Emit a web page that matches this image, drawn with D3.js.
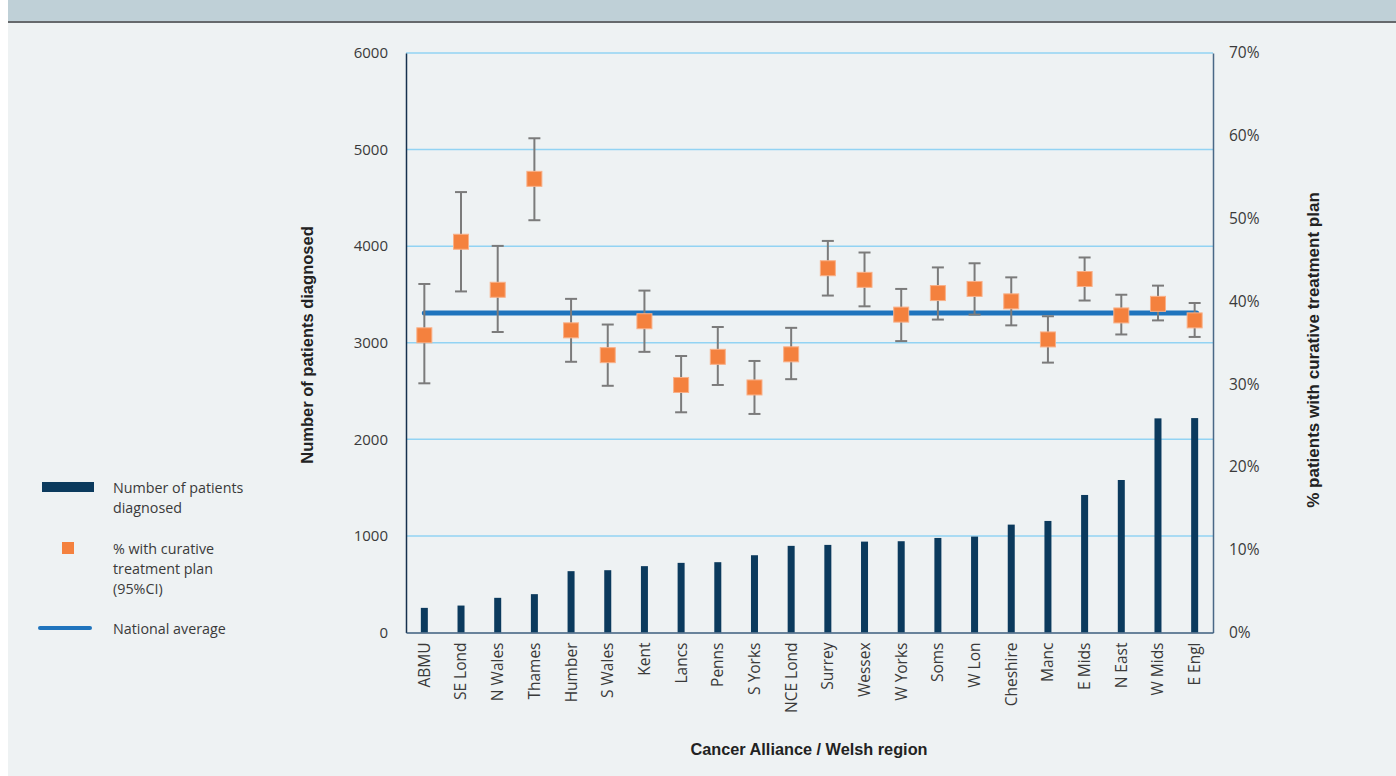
<!DOCTYPE html>
<html>
<head>
<meta charset="utf-8">
<script src="https://cdn.jsdelivr.net/npm/d3@7"></script>
<style>
  html, body { margin: 0; padding: 0; background: #ffffff; }
  svg { display: block; }
</style>
</head>
<body>
<svg id="chart" width="1396" height="776"></svg>
<script>
// ---- data ----
const categories = ["ABMU","SE Lond","N Wales","Thames","Humber","S Wales","Kent","Lancs","Penns","S Yorks","NCE Lond","Surrey","Wessex","W Yorks","Soms","W Lon","Cheshire","Manc","E Mids","N East","W Mids","E Engl"];
const patients = [255,279,359,397,635,645,687,721,728,800,897,907,941,945,979,993,1117,1155,1424,1579,2217,2220];
const pctCurative = [35.9,47.2,41.4,54.8,36.5,33.5,37.6,29.9,33.3,29.6,33.6,44.0,42.6,38.4,41.0,41.5,40.0,35.4,42.7,38.3,39.7,37.7];
const ciLower = [30.1,41.2,36.3,49.8,32.7,29.8,33.9,26.6,29.9,26.4,30.6,40.7,39.4,35.2,37.8,38.4,37.1,32.6,40.1,36.0,37.7,35.7];
const ciUpper = [42.1,53.2,46.7,59.7,40.3,37.2,41.3,33.4,36.9,32.8,36.8,47.3,45.9,41.5,44.1,44.6,42.9,38.2,45.3,40.8,41.9,39.8];
const nationalAverage = 38.6;
const leftTicks = [0,1000,2000,3000,4000,5000,6000];
const rightTicks = [0,10,20,30,40,50,60,70];

// ---- layout ----
const svg = d3.select("#chart");
const W = 1396, H = 776;
const plot = {left: 406, right: 1213, top: 53, bottom: 632.5};

svg.append("rect").attr("x", 8).attr("y", 0).attr("width", W - 8).attr("height", H).attr("fill", "#eef2f3");
svg.append("rect").attr("x", 8).attr("y", 0).attr("width", W - 8).attr("height", 21).attr("fill", "#bfd0d7");
svg.append("rect").attr("x", 8).attr("y", 21).attr("width", W - 8).attr("height", 2).attr("fill", "#66696c");

const x = d3.scaleBand().domain(categories).range([plot.left, plot.right]).paddingInner(0).paddingOuter(0);
const yL = d3.scaleLinear().domain([0, 6000]).range([plot.bottom, plot.top]);
const yR = d3.scaleLinear().domain([0, 70]).range([plot.bottom, plot.top]);

const font = "'Open Sans', 'Noto Sans', sans-serif";
const boldFont = "'Liberation Sans Narrow', 'Liberation Sans', sans-serif";

// gridlines
svg.append("g").selectAll("line").data(leftTicks.filter(d => d > 0)).join("line")
  .attr("x1", plot.left).attr("x2", plot.right)
  .attr("y1", d => yL(d)).attr("y2", d => yL(d))
  .attr("stroke", "#92d3f3").attr("stroke-width", 1.5);

// left axis
const axL = svg.append("g").attr("transform", `translate(${plot.left},0)`)
  .call(d3.axisLeft(yL).tickValues(leftTicks).tickSize(0).tickPadding(18).tickFormat(d3.format("d")));
axL.select(".domain").attr("stroke", "#15304d").attr("stroke-width", 1.5);
axL.selectAll("text").attr("font-family", font).attr("font-size", 15).attr("fill", "#3a3a3a");

// right axis
const axR = svg.append("g").attr("transform", `translate(${plot.right},0)`)
  .call(d3.axisRight(yR).tickValues(rightTicks).tickSize(0).tickPadding(16).tickFormat(d => d + "%"));
axR.select(".domain").attr("stroke", "#4a6886").attr("stroke-width", 1.5);
axR.selectAll("text").attr("font-family", font).attr("font-size", 15.5).attr("fill", "#3a3a3a");

// bars
const bw = 7;
svg.append("g").selectAll("rect").data(categories).join("rect")
  .attr("x", (d) => x(d) + x.bandwidth() / 2 - bw / 2)
  .attr("y", (d, i) => yL(patients[i]))
  .attr("width", bw)
  .attr("height", (d, i) => yL(0) - yL(patients[i]))
  .attr("fill", "#0b3a5d");

// bottom axis
const axB = svg.append("g").attr("transform", `translate(0,${plot.bottom})`)
  .call(d3.axisBottom(x).tickSize(0).tickPadding(0));
axB.select(".domain").attr("stroke", "#3d5e7e").attr("stroke-width", 1.5);
axB.selectAll("text")
  .attr("font-family", font).attr("font-size", 15.5).attr("fill", "#3a3a3a")
  .attr("text-anchor", "end")
  .attr("transform", "rotate(-90)")
  .attr("x", -10).attr("y", 0).attr("dy", "0.35em");

// national average line
svg.append("line")
  .attr("x1", x(categories[0]) + x.bandwidth() / 2)
  .attr("x2", x(categories[categories.length - 1]) + x.bandwidth() / 2 + 2)
  .attr("y1", yR(nationalAverage)).attr("y2", yR(nationalAverage))
  .attr("stroke", "#1f74bd").attr("stroke-width", 5).attr("stroke-linecap", "round");

// error bars
const eb = svg.append("g").attr("stroke", "#7b7b7b").attr("stroke-width", 2);
categories.forEach((c, i) => {
  const cx = x(c) + x.bandwidth() / 2;
  eb.append("line").attr("x1", cx).attr("x2", cx).attr("y1", yR(ciLower[i])).attr("y2", yR(ciUpper[i]));
  eb.append("line").attr("x1", cx - 6).attr("x2", cx + 6).attr("y1", yR(ciLower[i])).attr("y2", yR(ciLower[i]));
  eb.append("line").attr("x1", cx - 6).attr("x2", cx + 6).attr("y1", yR(ciUpper[i])).attr("y2", yR(ciUpper[i]));
});

// markers
const ms = 15;
svg.append("g").selectAll("rect").data(categories).join("rect")
  .attr("x", d => x(d) + x.bandwidth() / 2 - ms / 2)
  .attr("y", (d, i) => yR(pctCurative[i]) - ms / 2)
  .attr("width", ms).attr("height", ms)
  .attr("fill", "#f4813e").attr("stroke", "#f9b088").attr("stroke-width", 1);

// axis titles
svg.append("text")
  .attr("transform", `translate(313,345) rotate(-90)`)
  .attr("text-anchor", "middle")
  .attr("font-family", boldFont).attr("font-weight", "bold").attr("font-size", 16.5).attr("fill", "#222")
  .text("Number of patients diagnosed");
svg.append("text")
  .attr("transform", `translate(1319,350) rotate(-90)`)
  .attr("text-anchor", "middle")
  .attr("font-family", boldFont).attr("font-weight", "bold").attr("font-size", 17).attr("fill", "#222")
  .text("% patients with curative treatment plan");
svg.append("text")
  .attr("x", 809).attr("y", 755)
  .attr("text-anchor", "middle")
  .attr("font-family", boldFont).attr("font-weight", "bold").attr("font-size", 16.3).attr("fill", "#222")
  .text("Cancer Alliance / Welsh region");

// legend
const lg = svg.append("g").attr("font-family", font).attr("font-size", 14.3).attr("fill", "#3a3a3a");
lg.append("rect").attr("x", 42).attr("y", 482).attr("width", 52).attr("height", 10).attr("fill", "#0b3a5d");
lg.append("text").attr("x", 113).attr("y", 493).text("Number of patients");
lg.append("text").attr("x", 113).attr("y", 513).text("diagnosed");
lg.append("rect").attr("x", 62).attr("y", 542).attr("width", 12).attr("height", 12).attr("fill", "#f4813e");
lg.append("text").attr("x", 113).attr("y", 554).text("% with curative");
lg.append("text").attr("x", 113).attr("y", 574).text("treatment plan");
lg.append("text").attr("x", 113).attr("y", 594).text("(95%CI)");
lg.append("line").attr("x1", 40).attr("x2", 90).attr("y1", 628).attr("y2", 628)
  .attr("stroke", "#1f74bd").attr("stroke-width", 4).attr("stroke-linecap", "round");
lg.append("text").attr("x", 113).attr("y", 634).text("National average");
</script>
</body>
</html>
